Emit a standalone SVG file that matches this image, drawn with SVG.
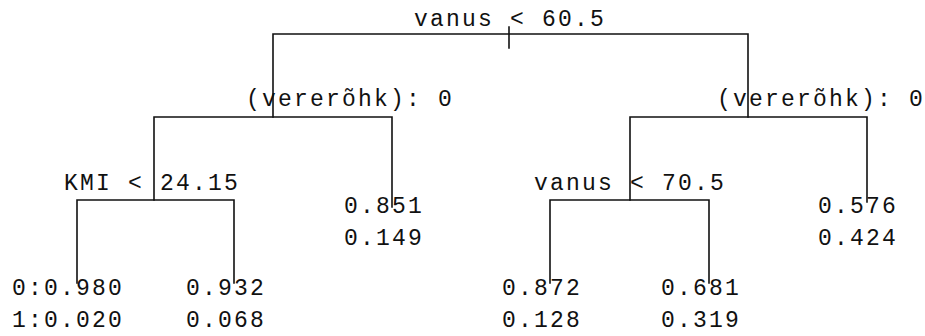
<svg xmlns="http://www.w3.org/2000/svg" width="925" height="336" viewBox="0 0 925 336">
  <style>
    .lbl { font-family: "Liberation Mono", "Courier New", monospace; font-size: 23px; letter-spacing: 2.2px; fill: #111; }
    .tight { letter-spacing: 0; }
    .edge { stroke: #111; stroke-width: 1.6; fill: none; stroke-linecap: square; }
  </style>
  <rect width="925" height="336" fill="#fff"/>

  <!-- tree branches -->
  <g id="connectors">
    <!-- root split -->
    <path class="edge" d="M273 117 V34 H748 V117"/>
    <path class="edge" d="M509 27 V48"/>
    <!-- left (vererõhk) split -->
    <path class="edge" d="M154 200 V117 H392 V207"/>
    <!-- KMI split -->
    <path class="edge" d="M77 283 V200 H234 V283"/>
    <!-- right (vererõhk) split -->
    <path class="edge" d="M630 200 V117 H867 V202"/>
    <!-- vanus < 70.5 split -->
    <path class="edge" d="M550 283 V200 H709 V283"/>
  </g>

  <g id="root">
    <text class="lbl" x="414" y="26">vanus &lt; 60.5</text>
  </g>
  <g id="split-left">
    <text class="lbl" x="246" y="106">(vererõhk): 0</text>
  </g>
  <g id="split-right">
    <text class="lbl" x="717" y="106">(vererõhk): <tspan class="tight">0</tspan></text>
  </g>
  <g id="split-kmi">
    <text class="lbl" x="64" y="190">KMI &lt; 24.15</text>
  </g>
  <g id="split-vanus">
    <text class="lbl" x="534" y="190">vanus &lt; 70.5</text>
  </g>

  <g id="leaf-1">
    <text class="lbl" x="12" y="295">0:0.980</text>
    <text class="lbl" x="12" y="327">1:0.020</text>
  </g>
  <g id="leaf-2">
    <text class="lbl" x="186" y="295">0.932</text>
    <text class="lbl" x="186" y="327">0.068</text>
  </g>
  <g id="leaf-3">
    <text class="lbl" x="344" y="213">0.851</text>
    <text class="lbl" x="344" y="245">0.149</text>
  </g>
  <g id="leaf-4">
    <text class="lbl" x="502" y="295">0.872</text>
    <text class="lbl" x="502" y="327">0.128</text>
  </g>
  <g id="leaf-5">
    <text class="lbl" x="661" y="295">0.681</text>
    <text class="lbl" x="661" y="327">0.319</text>
  </g>
  <g id="leaf-6">
    <text class="lbl" x="818" y="213">0.576</text>
    <text class="lbl" x="818" y="245">0.424</text>
  </g>
</svg>
